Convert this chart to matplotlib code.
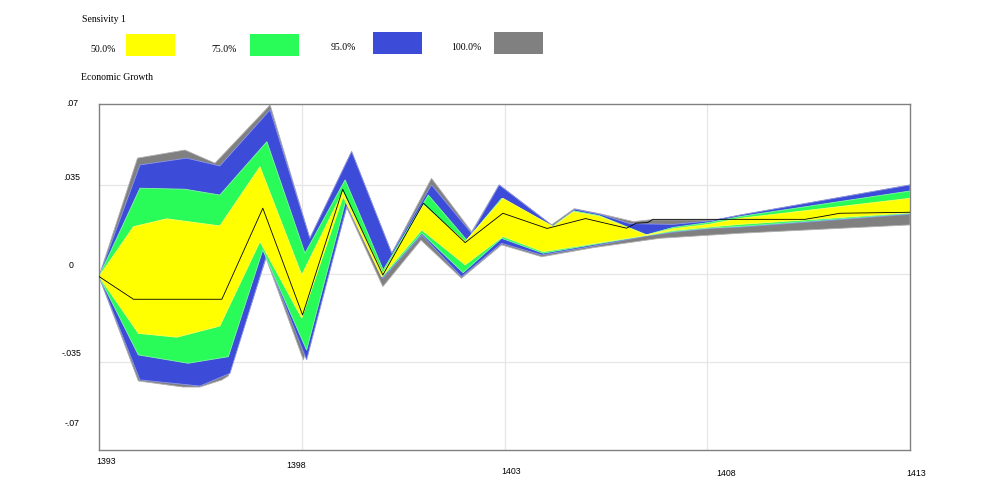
import numpy as np
import matplotlib.pyplot as plt
from matplotlib.patches import Rectangle

# Sensitivity bands (time, value)
gray_up = [(1393.0, -0.001), (1393.95, 0.0458), (1395.12, 0.0490), (1395.86, 0.0438), (1397.22, 0.0668),
           (1398.20, 0.0141), (1399.23, 0.0484), (1400.22, 0.0082), (1401.20, 0.0378), (1402.19, 0.0167),
           (1402.87, 0.0352), (1404.16, 0.0194), (1404.72, 0.0258), (1405.36, 0.0238), (1406.18, 0.0207),
           (1406.59, 0.0214), (1408.23, 0.0214), (1408.81, 0.0233), (1413.0, 0.0352)]
blue_up = [(1393.0, -0.001), (1394.01, 0.0431), (1395.16, 0.0458), (1395.98, 0.0427), (1397.22, 0.0649),
           (1398.20, 0.0141), (1399.23, 0.0484), (1400.22, 0.0082), (1401.20, 0.0352), (1402.19, 0.0161),
           (1402.87, 0.0352), (1404.19, 0.0190), (1404.74, 0.0256), (1405.36, 0.0236), (1406.01, 0.0203),
           (1406.09, 0.0199), (1407.16, 0.0196), (1408.07, 0.0210), (1408.81, 0.0233), (1413.0, 0.0352)]
green_up = [(1393.0, -0.001), (1394.01, 0.0339), (1395.12, 0.0335), (1395.98, 0.0312), (1397.14, 0.0523),
            (1398.08, 0.0082), (1399.07, 0.0372), (1400.01, 0.0016), (1401.12, 0.0312), (1402.07, 0.0134),
            (1402.93, 0.0299), (1404.19, 0.0188), (1404.72, 0.0249), (1405.33, 0.0231), (1406.5, 0.0155),
            (1407.16, 0.0184), (1408.07, 0.0204), (1408.81, 0.0227), (1413.0, 0.0328)]
yellow_up = [(1393.0, -0.001), (1393.85, 0.0187), (1394.67, 0.0218), (1395.98, 0.0190), (1396.97, 0.0424),
             (1398.0, -0.0004), (1399.01, 0.0325), (1400.0, 0.0003), (1401.0, 0.0273), (1402.03, 0.0128),
             (1402.96, 0.0299), (1404.2, 0.0187), (1404.70, 0.0246), (1405.36, 0.0227), (1406.5, 0.0154),
             (1407.16, 0.0179), (1408.07, 0.0197), (1408.81, 0.0220), (1413.0, 0.0299)]
yellow_lo = [(1393.0, -0.001), (1393.97, -0.0235), (1394.92, -0.0250), (1395.98, -0.0206), (1396.97, 0.0128),
             (1398.0, -0.0175), (1399.02, 0.0306), (1399.97, -0.0011), (1400.96, 0.0174), (1402.03, 0.0036),
             (1402.96, 0.0148), (1403.95, 0.0088), (1406.5, 0.0153), (1407.16, 0.0172), (1408.07, 0.0186),
             (1408.81, 0.0196), (1413.0, 0.0242)]
green_lo = [(1393.0, -0.001), (1393.97, -0.0320), (1395.20, -0.0353), (1396.19, -0.0327), (1397.04, 0.0095),
            (1398.12, -0.0301), (1399.09, 0.0293), (1400.0, -0.0011), (1400.96, 0.0161), (1401.98, 0.0005),
            (1402.93, 0.0141), (1403.95, 0.0082), (1406.5, 0.0152), (1407.16, 0.0168), (1408.07, 0.0182),
            (1408.81, 0.0188), (1413.0, 0.0239)]
blue_lo = [(1393.0, -0.001), (1394.01, -0.0419), (1395.49, -0.0443), (1396.23, -0.0393), (1397.12, 0.0067),
           (1398.12, -0.0340), (1399.11, 0.0267), (1400.0, -0.0017), (1400.96, 0.0154), (1401.94, -0.0011),
           (1402.93, 0.0121), (1403.92, 0.0075), (1405.19, 0.0110), (1406.5, 0.0150), (1407.16, 0.0165),
           (1408.07, 0.0180), (1408.81, 0.0185), (1413.0, 0.0236)]
gray_lo = [(1393.0, -0.001), (1393.97, -0.0423), (1395.07, -0.0447), (1395.49, -0.0447), (1396.03, -0.0419),
           (1396.19, -0.0403), (1397.12, 0.0063), (1398.04, -0.0340), (1399.11, 0.0262), (1400.0, -0.0050),
           (1400.94, 0.0134), (1401.94, -0.0017), (1402.93, 0.0115), (1403.92, 0.0068), (1405.19, 0.0104),
           (1406.83, 0.0141), (1408.81, 0.0161), (1413.0, 0.0194)]
mean_line = [(1393.0, -0.001), (1393.85, -0.0100), (1396.03, -0.0100), (1397.04, 0.0260), (1398.02, -0.0162),
             (1399.01, 0.0335), (1400.0, -0.0004), (1401.0, 0.0280), (1402.03, 0.0124), (1402.96, 0.0240),
             (1404.05, 0.0180), (1405.0, 0.0219), (1406.01, 0.0181), (1406.25, 0.0201), (1406.53, 0.0203),
             (1406.66, 0.0216), (1410.41, 0.0216), (1410.82, 0.0227), (1411.27, 0.0240), (1413.0, 0.0244)]

band_labels = ['50.0%', '75.0%', '95.0%', '100.0%']
band_colors = ['#ffff00', '#29fb59', '#3c4bd8', '#808080']
edge_colors = ['#ffff60', '#80fca0', '#8f98ea', '#b0b0b0']

W, H = 1001, 497
fig = plt.figure(figsize=(W / 100, H / 100), dpi=100)


def fx(x):
    return x / W


def fy(y):
    return 1 - y / H


ax = fig.add_axes([fx(99), fy(450), fx(910) - fx(99), fy(104) - fy(450)])
ax.set_xlim(1393, 1413)
ax.set_ylim(-0.0696, 0.0672)

for v in [-0.035, 0, 0.035]:
    ax.axhline(v, color='#e6e6e6', lw=0.9, zorder=0)
for t in [1398, 1403, 1408]:
    ax.axvline(t, color='#e6e6e6', lw=0.9, zorder=0)

bands = [(gray_up, gray_lo), (blue_up, blue_lo), (green_up, green_lo), (yellow_up, yellow_lo)]
for (up, lo), c, ec in zip(bands, band_colors[::-1], edge_colors[::-1]):
    tu, vu = zip(*up)
    tl, vl = zip(*lo)
    ax.fill(np.r_[tu, tl[::-1]], np.r_[vu, vl[::-1]], color=c, ec=ec, lw=0.6, zorder=2)

tm, vm = zip(*mean_line)
ax.plot(tm, vm, color='black', lw=0.6, zorder=3)

ax.set_xticks([])
ax.set_yticks([])
for s in ax.spines.values():
    s.set_color('#808080')
    s.set_linewidth(1.0)

sans = dict(family='Liberation Sans', fontsize=6.3, ha='center', va='center')
serif = dict(family='Liberation Serif', fontsize=7, va='center')

x_labels = ['1393', '1398', '1403', '1408', '1413']
x_label_pos = [(106, 462), (296, 466), (511, 472), (726, 474), (916, 474)]
for lab, (x, y) in zip(x_labels, x_label_pos):
    fig.text(fx(x), fy(y), lab, **sans)

y_labels = ['.07', '.035', '0', '-.035', '-.07']
y_label_pos = [(72, 103), (72, 178), (71, 265), (72, 353), (72, 423)]
for lab, (x, y) in zip(y_labels, y_label_pos):
    fig.text(fx(x), fy(y), lab, **sans)

fig.text(fx(82), fy(20), 'Sensivity 1', ha='left', **serif)
fig.text(fx(81), fy(78), 'Economic Growth', ha='left', **serif)

label_pos = [(103, 49), (224, 50), (343, 48), (466, 48)]
rect_pos = [(126, 34), (250, 34), (373, 32), (494, 32)]
for lab, c, (lx, ly), (rx, ry) in zip(band_labels, band_colors, label_pos, rect_pos):
    fig.text(fx(lx), fy(ly), lab, ha='center', **serif)
    fig.patches.append(Rectangle((fx(rx), fy(ry + 22)), 49 / W, 22 / H, transform=fig.transFigure,
                                 facecolor=c, edgecolor='none'))

fig.savefig('out.png', dpi=100)
